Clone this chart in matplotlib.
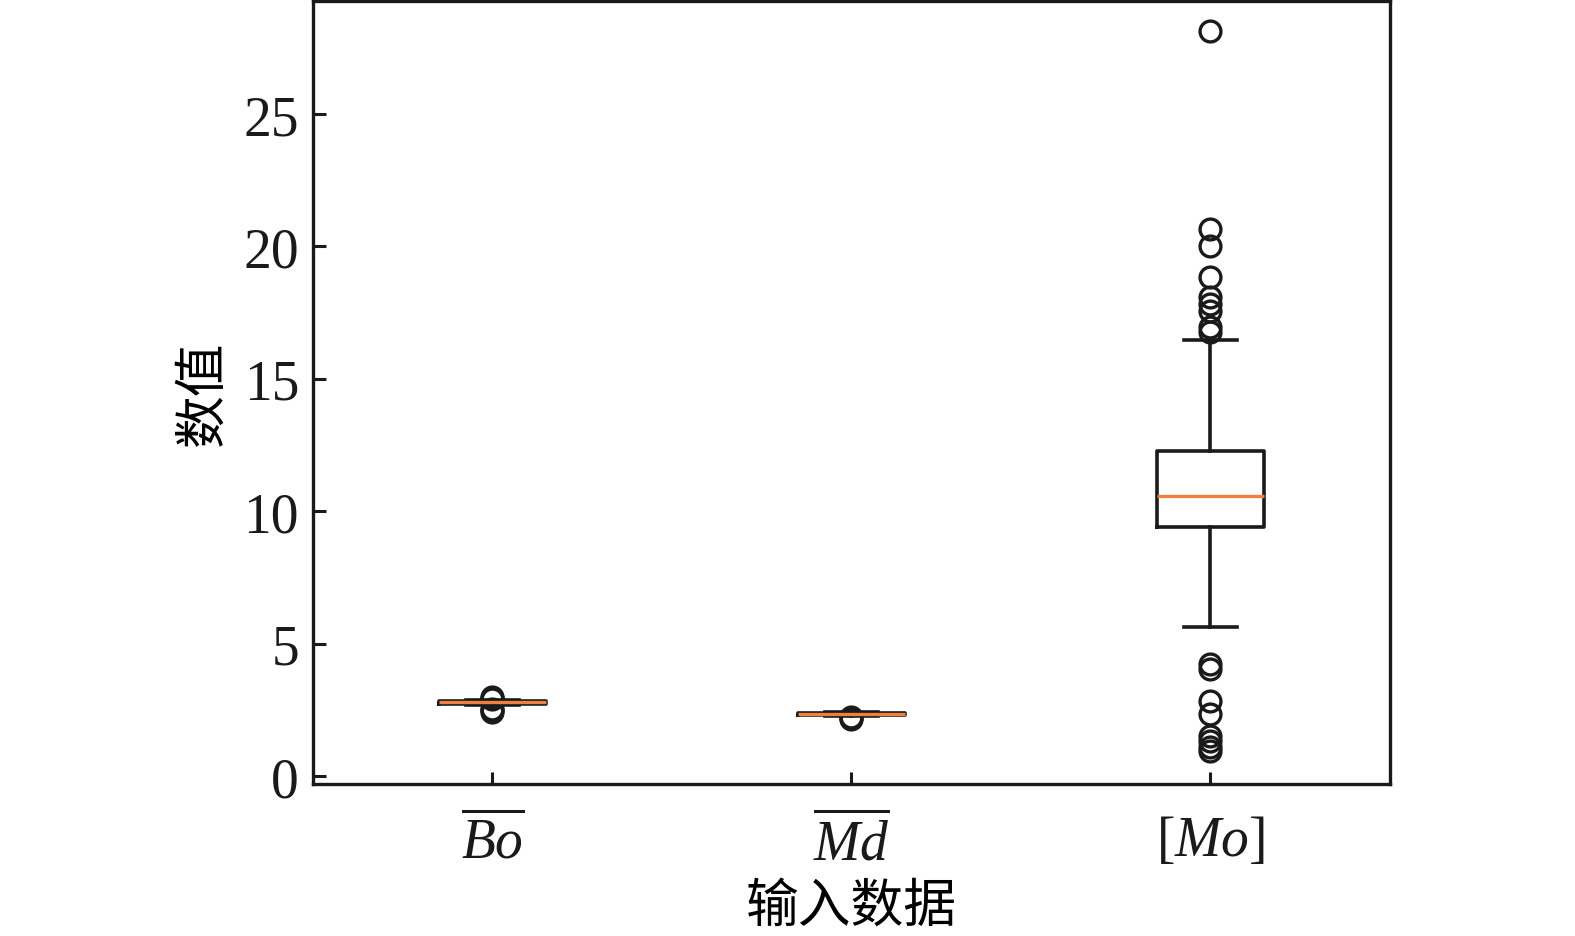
import matplotlib
matplotlib.use('Agg')
import matplotlib.pyplot as plt

plt.rcParams['font.family'] = ['Liberation Serif', 'Noto Sans CJK SC', 'DejaVu Sans']
plt.rcParams['mathtext.fontset'] = 'custom'
plt.rcParams['mathtext.rm'] = 'Liberation Serif'
plt.rcParams['mathtext.it'] = 'Liberation Serif:italic'

# data (box statistics per input)
labels = [r'$\overline{Bo}$', r'$\overline{Md}$', r'$[Mo]$']
q1 = [2.74, 2.31, 9.40]
med = [2.78, 2.35, 10.57]
q3 = [2.82, 2.38, 12.27]
whislo = [2.68, 2.27, 5.63]
whishi = [2.88, 2.42, 16.47]
fliers_bo = [3.00, 2.95, 2.92, 2.55, 2.48, 2.42]
fliers_md = [2.22, 2.18, 2.14]
fliers_mo = [28.13, 20.66, 20.02, 18.85, 18.10, 17.83, 17.56, 16.96, 16.77,
             4.23, 4.04, 2.83, 2.34, 1.51, 1.32, 1.10, 0.94]
fliers = [fliers_bo, fliers_md, fliers_mo]

stats = []
for i in range(len(labels)):
    stats.append({'q1': q1[i], 'med': med[i], 'q3': q3[i],
                  'whislo': whislo[i], 'whishi': whishi[i],
                  'fliers': fliers[i], 'label': labels[i]})

fig = plt.figure(figsize=(15.75, 9.37), dpi=100)
ax = fig.add_axes([0.1987, 0.1622, 0.6838, 0.8357])

line_kw = dict(color='#1a1a1a', linewidth=2.6)
ax.bxp(stats, positions=[1, 2, 3], widths=0.3,
       boxprops=line_kw, whiskerprops=line_kw, capprops=line_kw,
       medianprops=dict(color='#f08040', linewidth=2.4),
       flierprops=dict(marker='o', markerfacecolor='none', markeredgecolor='#1a1a1a',
                       markersize=15, markeredgewidth=2.4))

ax.set_xlim(0.5, 3.5)
ax.set_ylim(-0.30, 29.27)
ax.set_yticks([0, 5, 10, 15, 20, 25])

for s in ax.spines.values():
    s.set_linewidth(2.4)
    s.set_color('#1a1a1a')
ax.tick_params(direction='in', length=9, width=2.2, labelsize=40, colors='#1a1a1a')
ax.tick_params(axis='x', pad=22)
ax.tick_params(axis='y', pad=10)

ax.set_xlabel('输入数据', fontsize=38, family=['Noto Sans CJK SC', 'DejaVu Sans'], labelpad=4)
ax.set_ylabel('数值', fontsize=38, family=['Noto Sans CJK SC', 'DejaVu Sans'], labelpad=10)

fig.savefig('out.png', dpi=100)
